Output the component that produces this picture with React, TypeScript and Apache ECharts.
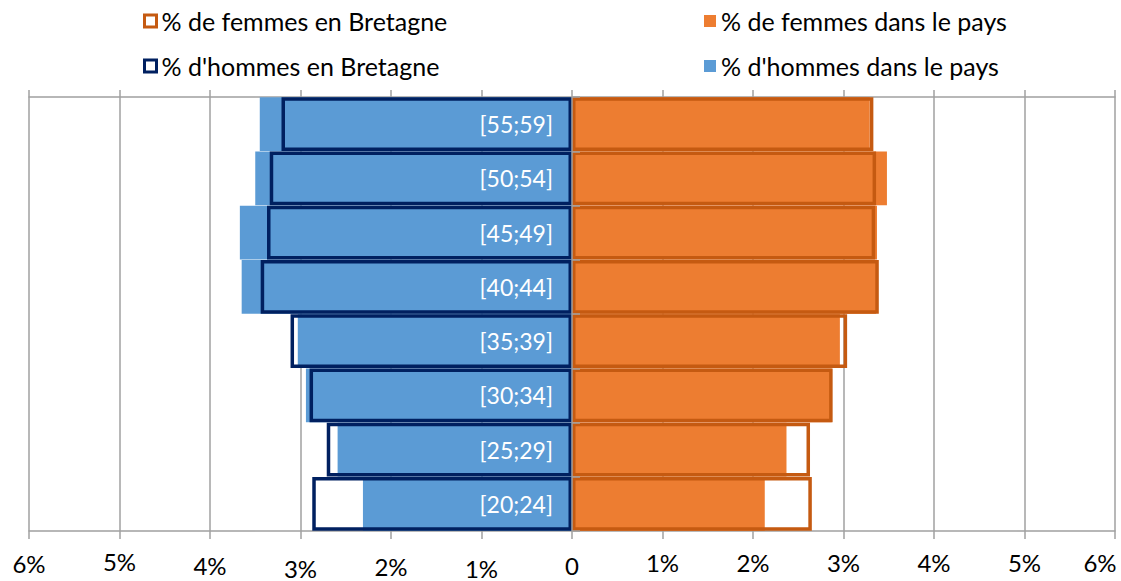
import React, { useEffect, useRef } from "react";
import * as echarts from "echarts";

const categories = ["[20;24]", "[25;29]", "[30;34]", "[35;39]", "[40;44]", "[45;49]", "[50;54]", "[55;59]"];
const hommesPays = [2.31, 2.59, 2.94, 3.03, 3.65, 3.67, 3.5, 3.45];
const hommesBretagne = [2.87, 2.71, 2.9, 3.11, 3.44, 3.37, 3.34, 3.21];
const femmesPays = [2.13, 2.37, 2.87, 2.96, 3.36, 3.37, 3.48, 3.29];
const femmesBretagne = [2.65, 2.63, 2.88, 3.04, 3.39, 3.35, 3.36, 3.33];
const tickValues = [-6, -5, -4, -3, -2, -1, 0, 1, 2, 3, 4, 5, 6];

const FONT = "Lato";
const BLUE = "#5B9BD5";
const ORANGE = "#ED7D31";
const NAVY = "#002060";
const DARK_ORANGE = "#C55A11";
const GRID = "#a0a0a0";

const NAMES = {
  fb: "% de femmes en Bretagne",
  hb: "% d'hommes en Bretagne",
  fp: "% de femmes dans le pays",
  hp: "% d'hommes dans le pays",
};

// vertical / horizontal nudges of tick labels (staggered like the reference)
const labelOffset: Record<string, number> = {
  "-6": 2, "-5": 0, "-4": 4, "-3": 7, "-2": 5, "-1": 7, "0": 4,
  "1": 1, "2": 1, "3": 1, "4": 1, "5": 1, "6": 1,
};
const labelRightPad: Record<string, number> = { "6": 30 };

export default function App() {
  const ref = useRef<HTMLDivElement>(null);
  useEffect(() => {
    if (!ref.current) return;
    const chart = echarts.init(ref.current, null, { renderer: "svg" });
    const rich: Record<string, any> = {};
    tickValues.forEach((v) => {
      rich["o" + (v + 6)] = {
        fontFamily: FONT,
        fontSize: 24,
        color: "#000",
        padding: [labelOffset[String(v)], labelRightPad[String(v)] || 0, 0, 0],
      };
    });
    const legendText = { fontFamily: FONT, fontSize: 25, color: "#000", lineHeight: 26 };
    chart.setOption({
      animation: false,
      backgroundColor: "#fff",
      legend: [
        {
          orient: "vertical",
          left: 138,
          top: 3,
          itemWidth: 12,
          itemHeight: 12,
          itemGap: 19,
          icon: "rect",
          textStyle: legendText,
          data: [
            { name: NAMES.fb, itemStyle: { color: "#fff", borderColor: DARK_ORANGE, borderWidth: 3 } },
            { name: NAMES.hb, itemStyle: { color: "#fff", borderColor: NAVY, borderWidth: 3 } },
          ],
        },
        {
          orient: "vertical",
          left: 699,
          top: 3,
          itemWidth: 12,
          itemHeight: 12,
          itemGap: 19,
          icon: "rect",
          textStyle: legendText,
          data: [
            { name: NAMES.fp, itemStyle: { color: ORANGE, borderWidth: 0 } },
            { name: NAMES.hp, itemStyle: { color: BLUE, borderWidth: 0 } },
          ],
        },
      ],
      grid: { left: 29, right: 6, top: 97, bottom: 50, containLabel: false, outerBoundsMode: "none" },
      xAxis: [
        {
          type: "value",
          position: "bottom",
          min: -6,
          max: 6,
          interval: 1,
          axisLine: { show: true, onZero: false, lineStyle: { color: GRID, width: 1.5 } },
          axisTick: { show: true, length: 8, lineStyle: { color: GRID, width: 1.5 } },
          splitLine: { show: true, lineStyle: { color: GRID, width: 1.5 } },
          axisLabel: {
            margin: 18,
            formatter: (v: number) => {
              const key = "o" + (Math.round(v) + 6);
              const t = v === 0 ? "0" : Math.abs(Math.round(v)) + "%";
              return "{" + key + "|" + t + "}";
            },
            rich,
          },
        },
        {
          type: "value",
          position: "top",
          min: -6,
          max: 6,
          interval: 1,
          axisLine: { show: true, onZero: false, lineStyle: { color: GRID, width: 1.5 } },
          axisTick: { show: true, length: 7, lineStyle: { color: GRID, width: 1.5 } },
          splitLine: { show: false },
          axisLabel: { show: false },
        },
      ],
      yAxis: {
        type: "category",
        data: categories,
        z: 10,
        axisLine: { show: true, onZero: true, lineStyle: { color: GRID, width: 1.5 } },
        axisTick: { show: true, inside: true, length: 8, lineStyle: { color: GRID, width: 1.5 } },
        axisLabel: { show: false },
        splitLine: { show: false },
      },
      series: [
        {
          name: NAMES.hp,
          type: "bar",
          barGap: "-100%",
          barCategoryGap: "1%",
          data: hommesPays.map((v) => -v),
          itemStyle: { color: BLUE },
          z: 2,
        },
        {
          name: NAMES.fp,
          type: "bar",
          barGap: "-100%",
          barCategoryGap: "1%",
          data: femmesPays,
          itemStyle: { color: ORANGE },
          z: 2,
        },
        {
          name: NAMES.hb,
          type: "bar",
          barGap: "-100%",
          barCategoryGap: "1%",
          data: hommesBretagne.map((v) => -v),
          itemStyle: { color: "rgba(0,0,0,0)", borderColor: NAVY, borderWidth: 3.5 },
          label: {
            show: true,
            position: "insideRight",
            distance: 19,
            color: "#fff",
            fontFamily: FONT,
            fontSize: 23,
            formatter: (p: any) => p.name,
          },
          z: 3,
        },
        {
          name: NAMES.fb,
          type: "bar",
          barGap: "-100%",
          barCategoryGap: "1%",
          data: femmesBretagne,
          itemStyle: { color: "rgba(0,0,0,0)", borderColor: DARK_ORANGE, borderWidth: 3.5 },
          z: 3,
        },
      ],
    });
    return () => chart.dispose();
  }, []);
  return (
    <div
      ref={ref}
      style={{ position: "fixed", left: 0, top: 0, width: 1121, height: 581, background: "#fff" }}
    />
  );
}
